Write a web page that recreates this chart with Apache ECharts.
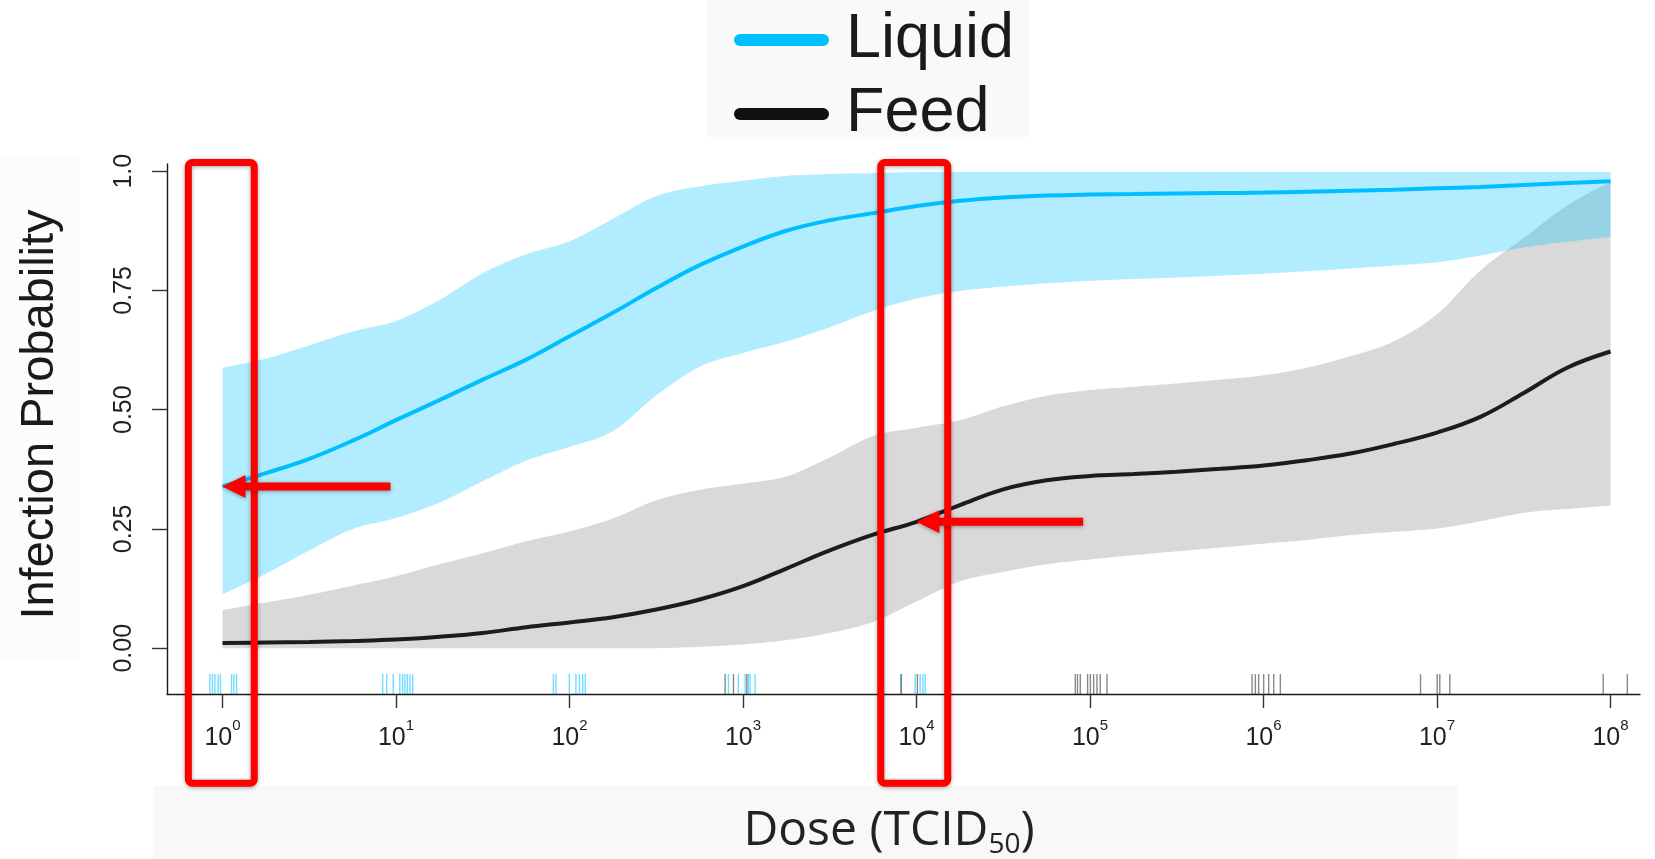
<!DOCTYPE html>
<html>
<head>
<meta charset="utf-8">
<script src="https://cdn.jsdelivr.net/npm/echarts@6/dist/echarts.min.js"></script>
<style>
html,body{margin:0;padding:0;background:#fff;}
#chart{width:1655px;height:859px;}
</style>
</head>
<body>
<div id="chart"></div>
<script>
// log10(dose) grid
const LOG_DOSE = [0,0.25,0.5,0.75,1,1.25,1.5,1.75,2,2.25,2.5,2.75,3,3.25,3.5,3.75,4,4.25,4.5,4.75,5,5.25,5.5,5.75,6,6.25,6.5,6.75,7,7.25,7.5,7.75,8];

const LIQUID_MEAN  = [0.339,0.367,0.397,0.435,0.478,0.520,0.563,0.605,0.654,0.703,0.755,0.803,0.842,0.875,0.897,0.912,0.927,0.938,0.945,0.949,0.951,0.952,0.953,0.954,0.955,0.957,0.959,0.961,0.964,0.967,0.971,0.975,0.979];
const LIQUID_UPPER = [0.588,0.607,0.635,0.664,0.686,0.730,0.786,0.826,0.853,0.900,0.948,0.968,0.980,0.990,0.994,0.996,0.998,0.998,0.998,0.998,0.998,0.998,0.998,0.998,0.998,0.998,0.998,0.998,0.998,0.998,0.998,0.998,0.998];
const LIQUID_LOWER = [0.113,0.156,0.205,0.250,0.273,0.305,0.350,0.393,0.422,0.455,0.530,0.590,0.619,0.643,0.673,0.707,0.733,0.749,0.758,0.765,0.770,0.774,0.777,0.781,0.785,0.790,0.796,0.802,0.809,0.823,0.840,0.852,0.862];

const FEED_MEAN  = [0.011,0.012,0.013,0.015,0.018,0.024,0.032,0.044,0.054,0.065,0.081,0.102,0.130,0.167,0.205,0.238,0.265,0.300,0.333,0.352,0.361,0.365,0.370,0.376,0.383,0.394,0.408,0.428,0.452,0.485,0.535,0.588,0.622];
const FEED_UPPER = [0.080,0.096,0.112,0.131,0.151,0.176,0.199,0.224,0.245,0.272,0.310,0.332,0.345,0.360,0.400,0.445,0.462,0.478,0.507,0.529,0.541,0.548,0.555,0.563,0.572,0.588,0.612,0.643,0.700,0.792,0.860,0.928,0.978];
const FEED_LOWER = [0,0,0,0,0,0,0,0,0,0,0,0.003,0.008,0.017,0.032,0.055,0.098,0.140,0.160,0.176,0.186,0.195,0.203,0.211,0.219,0.227,0.237,0.244,0.251,0.266,0.284,0.292,0.299];

// rug marks (log10 dose of observations)
const LIQUID_RUG = [-0.073,-0.058,-0.044,-0.025,-0.012,0.052,0.065,0.081,
  0.923,0.946,0.984,1.022,1.038,1.051,1.065,1.08,1.096,
  1.907,1.922,1.999,2.037,2.057,2.076,2.091,
  2.916,2.973,3.012,3.031,3.041,3.07,
  3.91,3.992,4.021,4.037,4.05];
const FEED_RUG = [2.897,2.945,3.022,
  3.912,4.005,
  4.915,4.928,4.944,4.986,5.002,5.021,5.04,5.059,5.098,
  5.934,5.953,5.972,6.001,6.03,6.059,6.097,
  6.905,7.001,7.016,7.074,
  7.958,8.097];

const X_TICKS = [0,1,2,3,4,5,6,7,8];
const Y_TICKS = [0,0.25,0.5,0.75,1];
const Y_TICK_LABELS = ['0.00','0.25','0.50','0.75','1.0'];

// annotation (red boxes / arrows), in data units
const HIGHLIGHT_X = [[-0.197,0.183],[3.794,4.18]];
const HIGHLIGHT_Y = [1.018,-0.283];
const ARROWS = [{tipIndex:0, series:'Liquid', tail:0.968},{tipIndex:16, series:'Feed', tail:4.96}];

const X_MIN = -0.32, X_MAX = 8.17, Y_MIN = -0.096, Y_MAX = 1.015;

const BLUE = '#00bfff';
const BLACK = '#1c1c1c';

const chart = echarts.init(document.getElementById('chart'), null, {renderer:'canvas'});

function pairs(xs, ys){ return xs.map((x,i)=>[x, ys[i]]); }

// Catmull-Rom smoothing in pixel space (rendering only)
function smoothPts(pts, n){
  const out = [];
  const L = pts.length;
  for (let i=0;i<L-1;i++){
    const p0 = pts[Math.max(i-1,0)], p1 = pts[i], p2 = pts[i+1], p3 = pts[Math.min(i+2,L-1)];
    for (let k=0;k<n;k++){
      const s = k/n, s2 = s*s, s3 = s2*s;
      const f = (a,b,c,d)=>0.5*((2*b)+(-a+c)*s+(2*a-5*b+4*c-d)*s2+(-a+3*b-3*c+d)*s3);
      out.push([f(p0[0],p1[0],p2[0],p3[0]), f(p0[1],p1[1],p2[1],p3[1])]);
    }
  }
  out.push(pts[L-1]);
  return out;
}

function bandSeries(name, lower, upper, color, z){
  return {
    type:'custom', name:name, silent:true, clip:true, z:z,
    data:[[LOG_DOSE[0], lower[0]]], encode:{x:0,y:1},
    renderItem:function(params, api){
      const up = LOG_DOSE.map((x,i)=>api.coord([x, upper[i]]));
      const lo = LOG_DOSE.map((x,i)=>api.coord([x, lower[i]]));
      const pts = smoothPts(up, 10).concat(smoothPts(lo, 10).reverse());
      return {type:'polygon', shape:{points:pts}, style:{fill:color}};
    }
  };
}
function rugSeries(name, xs, color){
  return {
    type:'custom', name:name, silent:true, clip:false, z:3,
    data: xs.map(x=>[x, Y_MIN]), encode:{x:0,y:1},
    renderItem:function(params, api){
      const p = api.coord([api.value(0), api.value(1)]);
      return {type:'line', shape:{x1:p[0], y1:p[1], x2:p[0], y2:p[1]-20}, style:{stroke:color, lineWidth:1.4}};
    }
  };
}

const legendIcon = 'path://M6,0 L89,0 A6,6 0 0 1 89,12 L6,12 A6,6 0 0 1 6,0 Z';

const option = {
  animation:false,
  backgroundColor:'#ffffff',
  grid:{left:167, right:15, top:164, bottom:165, containLabel:false},
  legend:{
    orient:'vertical', left:729, top:2,
    itemWidth:95, itemHeight:12, itemGap:8,
    data:[{name:'Liquid', icon:legendIcon, itemStyle:{color:BLUE}},{name:'Feed', icon:legendIcon, itemStyle:{color:'#111'}}],
    textStyle:{fontSize:63, fontFamily:'"Liberation Sans", Arial, sans-serif', color:'#1a1a1a', lineHeight:66, padding:[0,0,0,12]},
    selectedMode:false
  },
  xAxis:{
    type:'value', min:X_MIN, max:X_MAX,
    axisLine:{show:true, onZero:false, lineStyle:{color:'#1a1a1a', width:1.4}},
    axisTick:{show:true, length:14, customValues:X_TICKS, lineStyle:{color:'#333', width:1.4}},
    axisLabel:{
      customValues:X_TICKS, margin:24,
      formatter:function(v){ return '{b|10}{s|'+Math.round(v)+'}'; },
      rich:{
        b:{fontSize:25, fontFamily:'"Liberation Sans", Arial, sans-serif', color:'#222', lineHeight:40},
        s:{fontSize:15, fontFamily:'"Liberation Sans", Arial, sans-serif', color:'#222', lineHeight:16, verticalAlign:'top'}
      }
    },
    splitLine:{show:false}
  },
  yAxis:{
    type:'value', min:Y_MIN, max:Y_MAX,
    axisLine:{show:true, onZero:false, lineStyle:{color:'#1a1a1a', width:1.4}},
    axisTick:{show:true, length:15, customValues:Y_TICKS, lineStyle:{color:'#333', width:1.4}},
    axisLabel:{
      customValues:Y_TICKS, rotate:90, margin:30,
      fontSize:25, fontFamily:'"Liberation Sans Narrow", "Arial Narrow", "Liberation Sans", sans-serif', color:'#222',
      formatter:function(v){ const i = Y_TICKS.findIndex(t=>Math.abs(t-v)<1e-9); return i>=0 ? Y_TICK_LABELS[i] : v.toFixed(2); }
    },
    splitLine:{show:false}
  },
  series:[
    bandSeries('feedBand', FEED_LOWER, FEED_UPPER, '#d9d9d9', 1),
    bandSeries('liquidBand', LIQUID_LOWER, LIQUID_UPPER, 'rgba(0,191,255,0.3)', 2),
    rugSeries('liquidRug', LIQUID_RUG, 'rgba(0,191,255,0.55)'),
    rugSeries('feedRug', FEED_RUG, 'rgba(40,40,40,0.55)'),
    {type:'line', name:'Feed', data:pairs(LOG_DOSE, FEED_MEAN), smooth:0.4, showSymbol:false,
     lineStyle:{color:BLACK, width:4}, itemStyle:{color:'#111'}, z:4},
    {type:'line', name:'Liquid', data:pairs(LOG_DOSE, LIQUID_MEAN), smooth:0.4, showSymbol:false,
     lineStyle:{color:BLUE, width:4}, itemStyle:{color:BLUE}, z:5}
  ]
};
chart.setOption(option);

// background panels, titles and red annotations
const px = (x,y)=>chart.convertToPixel({gridIndex:0},[x,y]);
const graphics = [
  {type:'rect', z:-10, shape:{x:707,y:0,width:322,height:137}, style:{fill:'#f9f9f9'}},
  {type:'rect', z:-10, shape:{x:153,y:786,width:1304,height:73}, style:{fill:'#f8f8f8'}},
  {type:'rect', z:-10, shape:{x:0,y:158,width:80,height:500}, style:{fill:'#fcfcfc'}},
  {type:'text', z:10, x:40.5, y:414.5, rotation:Math.PI/2,
   style:{text:'Infection Probability', fontSize:47, fontFamily:'"Liberation Sans", Arial, sans-serif', fill:'#1a1a1a', align:'center', verticalAlign:'middle'}},
  {type:'text', z:10, x:889, y:831,
   style:{text:'{m|Dose (TCID}{s|50}{m|)}', align:'center', verticalAlign:'middle',
     rich:{m:{fontSize:48, fontFamily:'"Open Sans", sans-serif', fill:'#222', lineHeight:56},
           s:{fontSize:28, fontFamily:'"Open Sans", sans-serif', fill:'#222', lineHeight:36, verticalAlign:'bottom'}}}}
];
const shadow = {shadowBlur:4, shadowColor:'rgba(0,0,0,0.35)', shadowOffsetY:1};
HIGHLIGHT_X.forEach(function(r){
  const a = px(r[0], HIGHLIGHT_Y[0]), b = px(r[1], HIGHLIGHT_Y[1]);
  graphics.push({type:'rect', z:100, shape:{x:a[0], y:a[1], width:b[0]-a[0], height:b[1]-a[1], r:4},
    style:Object.assign({fill:'none', stroke:'#ff0000', lineWidth:7}, shadow)});
});
ARROWS.forEach(function(ar){
  const ys = ar.series==='Liquid' ? LIQUID_MEAN : FEED_MEAN;
  const tip = px(LOG_DOSE[ar.tipIndex], ys[ar.tipIndex]);
  const tail = px(ar.tail, ys[ar.tipIndex]);
  const hx = tip[0]+23;
  graphics.push({type:'line', z:100, shape:{x1:hx-2, y1:tip[1], x2:tail[0], y2:tip[1]},
    style:Object.assign({stroke:'#ff0000', lineWidth:8}, shadow)});
  graphics.push({type:'polygon', z:101, shape:{points:[[tip[0],tip[1]],[hx,tip[1]-11.5],[hx,tip[1]+11.5]]},
    style:Object.assign({fill:'#ff0000'}, shadow)});
});
chart.setOption({graphic:graphics});
</script>
</body>
</html>
